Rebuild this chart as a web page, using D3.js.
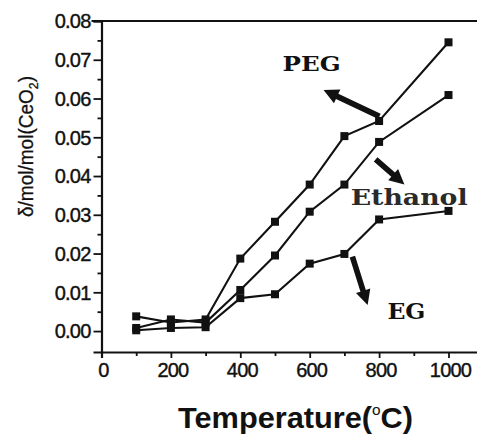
<!DOCTYPE html>
<html>
<head>
<meta charset="utf-8">
<script src="https://cdn.jsdelivr.net/npm/d3@7"></script>
<style>
  body { margin: 0; background: #fff; }
  svg { display: block; }
  .tick-label { font-family: "Liberation Sans", Arial, sans-serif; font-size: 20px; letter-spacing: -0.8px; fill: #111; stroke: #111; stroke-width: 0.4px; }
</style>
</head>
<body>
<div id="chart"></div>
<script>
// values
const temps = [100, 200, 300, 400, 500, 600, 700, 800, 1000];
const pegValues = [0.0038, 0.0022, 0.0030, 0.0187, 0.0282, 0.0378, 0.0503, 0.0542, 0.0745];
const ethanolValues = [0.0008, 0.0030, 0.0022, 0.0106, 0.0195, 0.0308, 0.0378, 0.0488, 0.0609];
const egValues = [0.0002, 0.0008, 0.0010, 0.0085, 0.0095, 0.0174, 0.0199, 0.0288, 0.0310];

const xTicks = [0, 200, 400, 600, 800, 1000];
const xMinorTicks = [100, 300, 500, 700, 900];
const yTicks = [0, 0.01, 0.02, 0.03, 0.04, 0.05, 0.06, 0.07, 0.08];
const yMinorTicks = [0.005, 0.015, 0.025, 0.035, 0.045, 0.055, 0.065, 0.075];

// annotations in data space
const labelNames = ["PEG", "Ethanol", "EG"];
const labelAt = [[522, 0.0671], [718, 0.0326], [824, 0.0031]];
const arrowFrom = [[801, 0.0554], [790, 0.0443], [723, 0.0192]];
const arrowTo = [[640, 0.0622], [873, 0.0378], [767, 0.0067]];

const width = 477, height = 435;

const svg = d3.select("#chart").append("svg")
    .attr("width", width)
    .attr("height", height);

const x = d3.scaleLinear().domain([0, 1100]).range([101.5, 483.2]);
const y = d3.scaleLinear().domain([-0.0054, 0.08]).range([352, 21]);

// top frame line
svg.append("line")
    .attr("x1", x(0) - 10).attr("x2", width)
    .attr("y1", y(0.08)).attr("y2", y(0.08))
    .attr("stroke", "#111").attr("stroke-width", 2);

// y axis
const yAxis = svg.append("g")
    .attr("transform", `translate(${x(0)},0)`)
    .call(d3.axisLeft(y).tickValues(yTicks).tickSize(8).tickFormat(d3.format(".2f")));
svg.append("g")
    .attr("transform", `translate(${x(0)},0)`)
    .call(d3.axisLeft(y).tickValues(yMinorTicks).tickSize(4).tickFormat(""))
    .call(g => g.select(".domain").remove());

// x axis
const xAxis = svg.append("g")
    .attr("transform", `translate(0,${y.range()[0]})`)
    .call(d3.axisBottom(x).tickValues(xTicks).tickSize(6).tickFormat(d3.format("d")));
svg.append("g")
    .attr("transform", `translate(0,${y.range()[0]})`)
    .call(d3.axisBottom(x).tickValues(xMinorTicks).tickSize(4).tickFormat(""))
    .call(g => g.select(".domain").remove());

svg.selectAll(".domain").attr("stroke", "#111").attr("stroke-width", 2.2);
svg.selectAll(".tick line").attr("stroke", "#111").attr("stroke-width", 1.8);

yAxis.selectAll(".tick text")
    .attr("class", "tick-label")
    .attr("x", -11)
    .attr("dy", "0.34em");
xAxis.selectAll(".tick text")
    .attr("class", "tick-label")
    .attr("y", 9)
    .attr("dx", "1.5px")
    .attr("dy", "0.8em");

// series
const series = [pegValues, ethanolValues, egValues];
const line = d3.line()
    .x((d, i) => x(temps[i]))
    .y(d => y(d));

series.forEach(vals => {
    svg.append("path")
        .datum(vals)
        .attr("d", line)
        .attr("fill", "none")
        .attr("stroke", "#111")
        .attr("stroke-width", 2.1);
});

series.forEach(vals => {
    svg.selectAll(null)
        .data(vals)
        .enter().append("rect")
        .attr("x", (d, i) => x(temps[i]) - 4)
        .attr("y", d => y(d) - 4)
        .attr("width", 8)
        .attr("height", 8)
        .attr("fill", "#111");
});

// thick arrows
function arrowPath(p0, p1) {
    const dx = p1[0] - p0[0], dy = p1[1] - p0[1];
    const len = Math.hypot(dx, dy);
    const ux = dx / len, uy = dy / len;
    const nx = -uy, ny = ux;
    const headLen = 15, headW = 7.5, shaftW = 2.8;
    const bx = p1[0] - ux * headLen, by = p1[1] - uy * headLen;
    const pts = [
        [p0[0] + nx * shaftW, p0[1] + ny * shaftW],
        [bx + nx * shaftW, by + ny * shaftW],
        [bx + nx * headW, by + ny * headW],
        p1,
        [bx - nx * headW, by - ny * headW],
        [bx - nx * shaftW, by - ny * shaftW],
        [p0[0] - nx * shaftW, p0[1] - ny * shaftW]
    ];
    return "M" + pts.map(p => p.join(",")).join("L") + "Z";
}

arrowFrom.forEach((f, i) => {
    svg.append("path")
        .attr("d", arrowPath([x(f[0]), y(f[1])], [x(arrowTo[i][0]), y(arrowTo[i][1])]))
        .attr("fill", "#111");
});

// annotation labels
const labelSizes = [21, 23, 22];
const labelWidths = [58, 117, 38];
labelNames.forEach((name, i) => {
    svg.append("text")
        .attr("x", x(labelAt[i][0]))
        .attr("y", y(labelAt[i][1]))
        .attr("font-family", "'DejaVu Serif', 'Liberation Serif', serif")
        .attr("font-weight", "bold")
        .attr("font-size", labelSizes[i])
        .attr("textLength", labelWidths[i])
        .attr("lengthAdjust", "spacingAndGlyphs")
        .attr("fill", i === 1 ? "#2a2a2a" : "#111")
        .text(name);
});

// axis titles
const xTitle = svg.append("text")
    .attr("x", 178)
    .attr("y", 428)
    .attr("font-family", "'Liberation Sans', Arial, sans-serif")
    .attr("font-weight", "bold")
    .attr("font-size", 30)
    .attr("textLength", 235)
    .attr("lengthAdjust", "spacingAndGlyphs")
    .attr("fill", "#111");
xTitle.append("tspan").text("Temperature(");
xTitle.append("tspan").attr("font-size", 15).attr("font-weight", "normal").attr("dy", -13).text("o");
xTitle.append("tspan").attr("dy", 13).text("C)");

const yTitle = svg.append("text")
    .attr("transform", "translate(33,217) rotate(-90)")
    .attr("font-family", "'Liberation Sans', Arial, sans-serif")
    .attr("font-size", 20)
    .attr("textLength", 141)
    .attr("lengthAdjust", "spacingAndGlyphs")
    .attr("fill", "#111")
    .attr("stroke", "#111")
    .attr("stroke-width", 0.3);
yTitle.append("tspan").text("δ/mol/mol(CeO");
yTitle.append("tspan").attr("font-size", 13).attr("dy", 5).text("2");
yTitle.append("tspan").attr("dy", -5).text(")");
</script>
</body>
</html>
